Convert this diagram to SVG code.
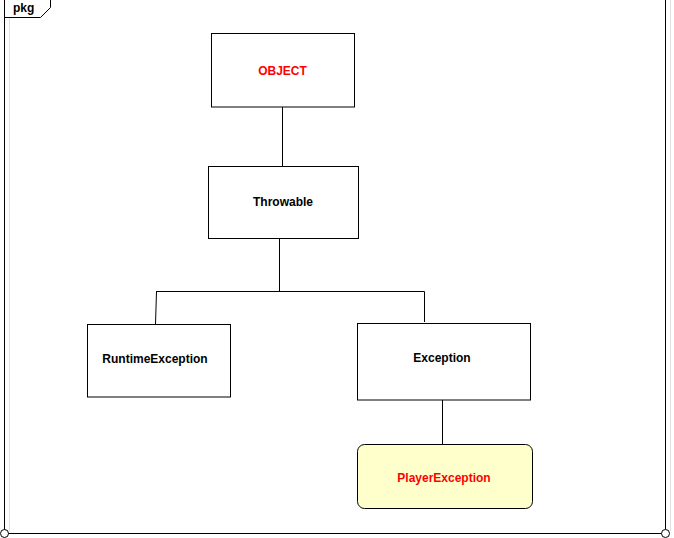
<svg xmlns="http://www.w3.org/2000/svg" width="674" height="538" viewBox="0 0 674 538">
<style>
.box{fill:#ffffff;stroke:#000000;stroke-width:1}
.lbl{font-family:"Liberation Sans",Arial,sans-serif;font-weight:bold;font-size:12px;text-anchor:middle;fill:#000000}
.red{fill:#ff0000}
.conn{stroke:#000000;stroke-width:1;fill:none}
.shadow{stroke:#e0e0e0;stroke-width:1}
</style>
<rect x="0" y="0" width="674" height="538" fill="#ffffff"/>
<g id="frame">
<line class="shadow" x1="9.5" y1="18" x2="9.5" y2="531"/>
<line class="shadow" x1="670.5" y1="0" x2="670.5" y2="531"/>
<path d="M4.5 0 V533.5 H665.5 V0" fill="none" stroke="#000" stroke-width="1"/>
<path d="M4.5 17.5 H40.5 L50.5 7.5 V0" fill="none" stroke="#000" stroke-width="1"/>
<text x="13" y="12" font-family="'Liberation Sans',Arial,sans-serif" font-weight="bold" font-size="12px" fill="#000">pkg</text>
<circle cx="4.5" cy="533.5" r="4" fill="#fff" stroke="#000" stroke-width="1"/>
<circle cx="665.5" cy="533.5" r="4" fill="#fff" stroke="#000" stroke-width="1"/>
</g>
<g id="connectors">
<line class="conn" x1="282.5" y1="107" x2="282.5" y2="166"/>
<line class="conn" x1="279.5" y1="238" x2="279.5" y2="291.5"/>
<line class="conn" x1="156" y1="291.5" x2="424.5" y2="291.5"/>
<line class="conn" x1="156.5" y1="291.5" x2="155.5" y2="324"/>
<line class="conn" x1="424.5" y1="291.5" x2="424.5" y2="322"/>
<line class="conn" x1="442.5" y1="400" x2="442.5" y2="444"/>
</g>
<g id="object">
<rect class="box" x="211.5" y="33.5" width="143" height="73.5"/>
<text class="lbl red" x="282.5" y="75">OBJECT</text>
</g>
<g id="throwable">
<rect class="box" x="208.5" y="166.5" width="150" height="72"/>
<text class="lbl" x="283" y="206">Throwable</text>
</g>
<g id="runtimeexception">
<rect class="box" x="87.5" y="324.5" width="143" height="72.5"/>
<text class="lbl" x="155" y="363">RuntimeException</text>
</g>
<g id="exception">
<rect class="box" x="357.5" y="323.5" width="173" height="76.5"/>
<text class="lbl" x="442" y="362">Exception</text>
</g>
<g id="playerexception">
<rect x="357.5" y="444.5" width="175" height="64" rx="7" ry="7" fill="#ffffcc" stroke="#000" stroke-width="1"/>
<text class="lbl red" x="444" y="482">PlayerException</text>
</g>
</svg>
